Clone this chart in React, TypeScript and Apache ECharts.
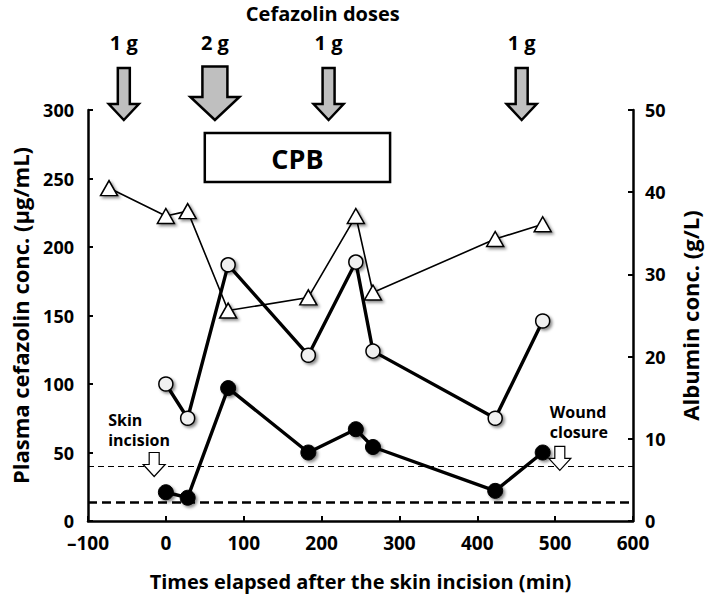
import React, { useEffect, useRef } from "react";
import * as echarts from "echarts";

// Data
const times = [0, 28, 80, 183, 244, 266, 423, 484];
const totalConc = [100, 75, 187, 121, 189, 124, 75, 146];
const freeConc = [21, 17, 97, 50, 67, 54, 22, 50];
const albuminTimes = [-73, 0, 28, 80, 183, 244, 266, 423, 484];
const albumin = [40.5, 37.1, 37.7, 25.6, 27.2, 37.1, 27.8, 34.3, 36.1];
const doseTimes = [-54, 63, 209, 457];
const doseGrams = [1, 2, 1, 1];
const doseLabels = ["1 g", "2 g", "1 g", "1 g"];
const cpbRange = [50, 288];
const refLines = [40, 13.5];
const skinIncision = { x: -15, y: 50 };
const woundClosure = { x: 506, y: 54.5 };

const FONT = "'Open Sans', 'Noto Sans', sans-serif";

export default function App() {
  const ref = useRef<HTMLDivElement>(null);
  useEffect(() => {
    if (!ref.current) return;
    const chart = echarts.init(ref.current, null, { renderer: "svg" });
    const shadow = {
      shadowBlur: 3,
      shadowOffsetX: 2,
      shadowOffsetY: 2,
      shadowColor: "rgba(0,0,0,0.45)",
    };
    const axisLabel = {
      color: "#000",
      fontFamily: FONT,
      fontWeight: "bold" as const,
      fontSize: 18,
    };
    const yName = { color: "#000", fontFamily: FONT, fontWeight: "bold" as const, fontSize: 22 };
    chart.setOption({
      animation: false,
      backgroundColor: "#fff",
      grid: { left: 88, right: 74, top: 110, bottom: 73 },
      xAxis: {
        type: "value",
        min: -100,
        max: 600,
        interval: 100,
        name: "Times elapsed after the skin incision (min)",
        nameLocation: "middle",
        nameGap: 50,
        nameTextStyle: { color: "#000", fontFamily: FONT, fontWeight: "bold", fontSize: 20 },
        axisLine: { onZero: false, lineStyle: { color: "#000", width: 2.5 } },
        axisTick: { inside: true, length: 5, lineStyle: { color: "#000", width: 2 } },
        axisLabel: {
          ...axisLabel,
          fontSize: 19,
          margin: 12,
          formatter: (v: number) => String(v).replace("-", "\u2013"),
        },
        splitLine: { show: false },
      },
      yAxis: [
        {
          type: "value",
          min: 0,
          max: 300,
          interval: 50,
          name: "Plasma cefazolin conc. (\u03bcg/mL)",
          nameLocation: "middle",
          nameGap: 57,
          nameRotate: 90,
          nameTextStyle: yName,
          axisLine: { show: true, onZero: false, lineStyle: { color: "#000", width: 2.5 } },
          axisTick: { show: true, inside: true, length: 5, lineStyle: { color: "#000", width: 2 } },
          axisLabel: { ...axisLabel, margin: 14 },
          splitLine: { show: false },
        },
        {
          type: "value",
          min: 0,
          max: 50,
          interval: 10,
          position: "right",
          name: "Albumin conc. (g/L)",
          nameLocation: "middle",
          nameGap: 46,
          nameRotate: 90,
          nameTextStyle: yName,
          axisLine: { show: true, onZero: false, lineStyle: { color: "#000", width: 2.5 } },
          axisTick: { show: true, inside: true, length: 5, lineStyle: { color: "#000", width: 2 } },
          axisLabel: { ...axisLabel, margin: 12 },
          splitLine: { show: false },
        },
      ],
      series: [
        {
          type: "line",
          yAxisIndex: 0,
          data: [],
          silent: true,
          markLine: {
            silent: true,
            symbol: "none",
            label: { show: false },
            data: [
              { yAxis: refLines[0], lineStyle: { color: "#000", width: 1.2, type: [6, 4] } },
              { yAxis: refLines[1], lineStyle: { color: "#000", width: 2.6, type: [9, 5] } },
            ],
          },
        },
        {
          type: "line",
          yAxisIndex: 1,
          data: albuminTimes.map((t, i) => [t, albumin[i]]),
          symbol: "triangle",
          symbolSize: [17, 15],
          lineStyle: { color: "#000", width: 1.6 },
          itemStyle: { color: "#fff", borderColor: "#000", borderWidth: 1.5, ...shadow },
        },
        {
          type: "line",
          yAxisIndex: 0,
          data: times.map((t, i) => [t, totalConc[i]]),
          symbol: "circle",
          symbolSize: 14,
          lineStyle: { color: "#000", width: 3.4 },
          itemStyle: { color: "#f0f0f0", borderColor: "#000", borderWidth: 1.5, ...shadow },
        },
        {
          type: "line",
          yAxisIndex: 0,
          data: times.map((t, i) => [t, freeConc[i]]),
          symbol: "circle",
          symbolSize: 15,
          lineStyle: { color: "#000", width: 3.4 },
          itemStyle: { color: "#000", borderColor: "#000", borderWidth: 1, ...shadow },
        },
      ],
    });

    const px = (x: number, y: number) =>
      chart.convertToPixel({ xAxisIndex: 0, yAxisIndex: 0 }, [x, y]) as number[];

    const graphics: any[] = [];
    // dose arrows
    const doseX = doseTimes.map((t) => px(t, 0)[0]);
    doseX.forEach((cx, i) => {
      const big = doseGrams[i] >= 2;
      const top = big ? 66.5 : 68;
      const sh = big ? 12.5 : 6;
      const hh = big ? 24.5 : 15;
      const hs = big ? 97 : 104;
      const tip = 120;
      graphics.push({
        type: "polygon",
        shape: {
          points: [
            [cx - sh, top],
            [cx + sh, top],
            [cx + sh, hs],
            [cx + hh, hs],
            [cx, tip],
            [cx - hh, hs],
            [cx - sh, hs],
          ],
        },
        style: { fill: "#bfbfbf", stroke: "#000", lineWidth: 2.5, lineJoin: "miter" },
      });
      graphics.push({
        type: "text",
        x: cx,
        y: 42,
        style: {
          text: doseLabels[i],
          fill: "#000",
          font: `bold 20px ${FONT}`,
          textAlign: "center",
          textVerticalAlign: "middle",
        },
      });
    });
    graphics.push({
      type: "text",
      x: (doseX[0] + doseX[doseX.length - 1]) / 2,
      y: 13,
      style: {
        text: "Cefazolin doses",
        fill: "#000",
        font: `bold 20px ${FONT}`,
        textAlign: "center",
        textVerticalAlign: "middle",
      },
    });
    // CPB box
    const c0 = px(cpbRange[0], 0)[0];
    const c1 = px(cpbRange[1], 0)[0];
    graphics.push({
      type: "rect",
      shape: { x: c0, y: 133, width: c1 - c0, height: 49 },
      style: { fill: "#fff", stroke: "#000", lineWidth: 2.5 },
      z: 10,
    });
    graphics.push({
      type: "text",
      x: (c0 + c1) / 2,
      y: 158,
      z: 11,
      style: {
        text: "CPB",
        fill: "#000",
        font: `bold 27px ${FONT}`,
        textAlign: "center",
        textVerticalAlign: "middle",
      },
    });
    // open arrows with annotations
    const openArrow = (p: number[]) => {
      const [cx, top] = p;
      const sh = 5;
      const hh = 11;
      const hs = top + 12;
      const tip = top + 24;
      return {
        type: "polygon",
        z: 10,
        shape: {
          points: [
            [cx - sh, top],
            [cx + sh, top],
            [cx + sh, hs],
            [cx + hh, hs],
            [cx, tip],
            [cx - hh, hs],
            [cx - sh, hs],
          ],
        },
        style: { fill: "#fff", stroke: "#000", lineWidth: 1.2 },
      };
    };
    const sp = px(skinIncision.x, skinIncision.y);
    const wp = px(woundClosure.x, woundClosure.y);
    graphics.push(openArrow(sp));
    graphics.push(openArrow(wp));
    graphics.push({
      type: "text",
      x: sp[0] - 46,
      y: sp[1] - 43,
      z: 10,
      style: {
        text: "Skin\nincision",
        fill: "#000",
        font: `bold 16px ${FONT}`,
        lineHeight: 20,
        textAlign: "left",
        textVerticalAlign: "top",
      },
    });
    graphics.push({
      type: "text",
      x: wp[0] - 10,
      y: wp[1] - 44,
      z: 10,
      style: {
        text: "Wound\nclosure",
        fill: "#000",
        font: `bold 16px ${FONT}`,
        lineHeight: 20,
        textAlign: "left",
        textVerticalAlign: "top",
      },
    });
    chart.setOption({ graphic: graphics });

    return () => chart.dispose();
  }, []);
  return (
    <div
      ref={ref}
      style={{ position: "absolute", left: 0, top: 0, width: 709, height: 596 }}
    />
  );
}
